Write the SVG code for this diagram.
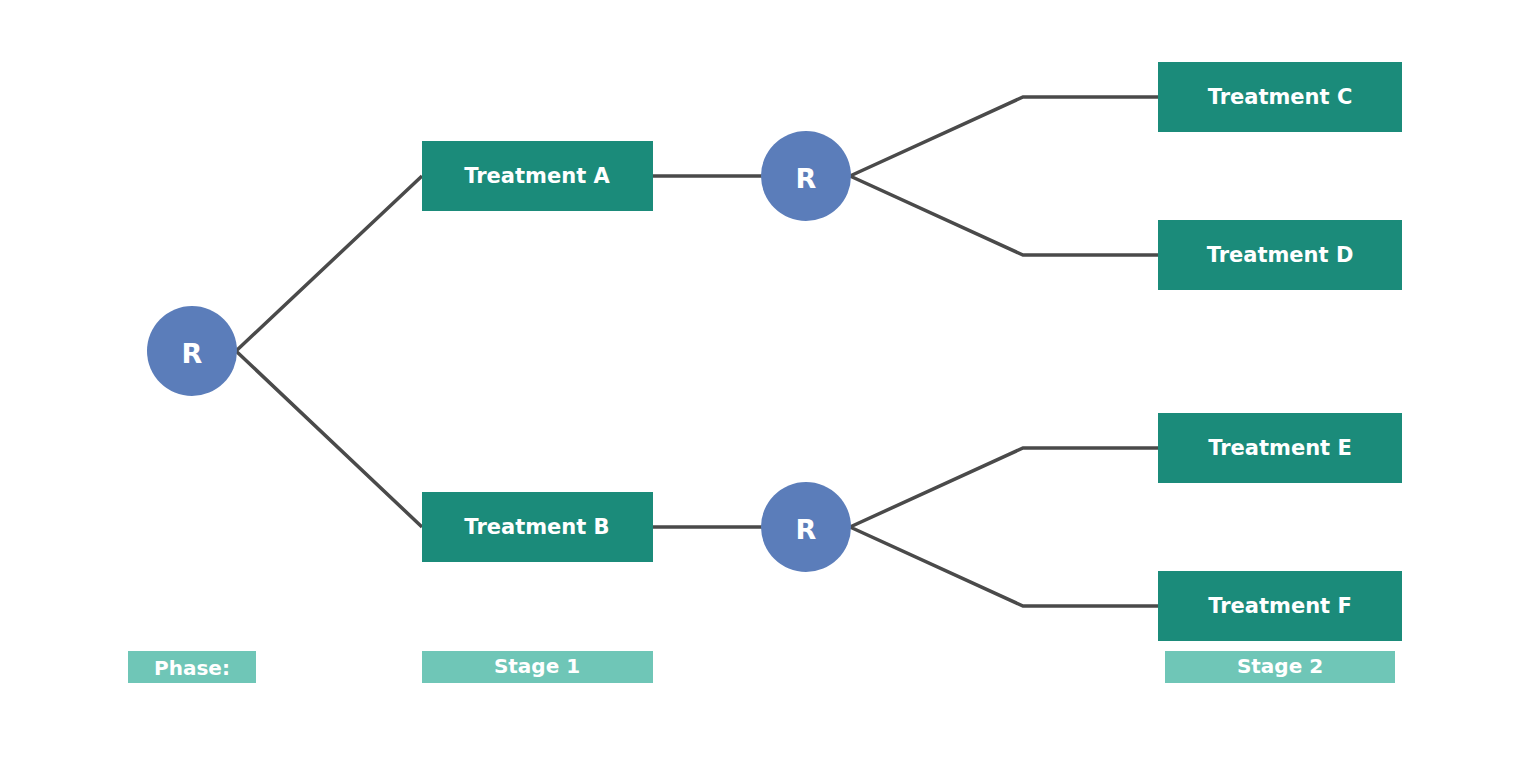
<svg xmlns="http://www.w3.org/2000/svg" width="1536" height="768" viewBox="0 0 1536 768">
<style>
.t{fill:#1b8b7a}.c{fill:#5b7dba}.p{fill:#6fc6b7}
text{font-family:"DejaVu Sans",sans-serif;font-weight:bold;fill:#fff;text-anchor:middle;dominant-baseline:central}
.l{font-size:21px}.r{font-size:27px}.s{font-size:20px}
#edges path{fill:none;stroke:#4a4a4a;stroke-width:3.5}
</style>
<rect width="1536" height="768" fill="#fff"/>
<g id="edges">
<path d="M236 351L422 176M236 351L422 527M653 176H762M653 527H762M850 176L1023 97H1158M850 176L1023 255H1158M850 527L1023 448H1158M850 527L1023 606H1158"/>
</g>
<g id="r0"><circle class="c" cx="192" cy="351" r="45"/><text class="r" x="192" y="353">R</text></g>
<g id="r1"><circle class="c" cx="806" cy="176" r="45"/><text class="r" x="806" y="178">R</text></g>
<g id="r2"><circle class="c" cx="806" cy="527" r="45"/><text class="r" x="806" y="529">R</text></g>
<g id="ta"><rect class="t" x="422" y="141" width="231" height="70"/><text class="l" x="537" y="176">Treatment A</text></g>
<g id="tb"><rect class="t" x="422" y="492" width="231" height="70"/><text class="l" x="537" y="527">Treatment B</text></g>
<g id="tc"><rect class="t" x="1158" y="62" width="244" height="70"/><text class="l" x="1280" y="97">Treatment C</text></g>
<g id="td"><rect class="t" x="1158" y="220" width="244" height="70"/><text class="l" x="1280" y="255">Treatment D</text></g>
<g id="te"><rect class="t" x="1158" y="413" width="244" height="70"/><text class="l" x="1280" y="448">Treatment E</text></g>
<g id="tf"><rect class="t" x="1158" y="571" width="244" height="70"/><text class="l" x="1280" y="606">Treatment F</text></g>
<g id="phase"><rect class="p" x="128" y="651" width="128" height="32"/><text class="s" x="192" y="668">Phase:</text></g>
<g id="s1"><rect class="p" x="422" y="651" width="231" height="32"/><text class="s" x="537" y="666">Stage 1</text></g>
<g id="s2"><rect class="p" x="1165" y="651" width="230" height="32"/><text class="s" x="1280" y="666">Stage 2</text></g>
</svg>
